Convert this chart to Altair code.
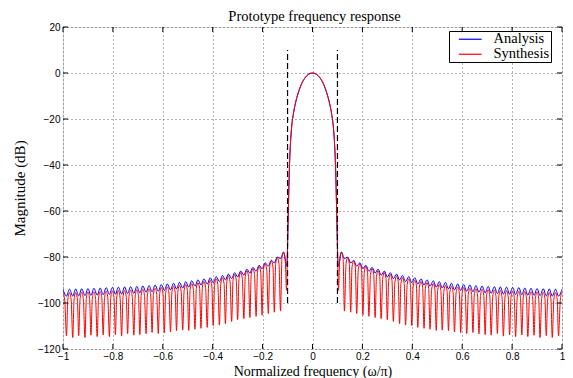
import altair as alt
import pandas as pd

# ---- data (right half; the response is symmetric about 0) ----
lobe_x = [0.000, 0.015, 0.030, 0.045, 0.057, 0.068, 0.077, 0.084, 0.089, 0.093, 0.096, 0.099, 0.101]
lobe_db = [0.0, -0.5, -2.1, -5.0, -8.6, -13.0, -18.0, -24.0, -32.0, -43.0, -56.0, -70.0, -80.0]

null_x = [0.104, 0.128, 0.153, 0.177, 0.202, 0.226, 0.251, 0.275, 0.300, 0.324,
          0.349, 0.373, 0.398, 0.422, 0.447, 0.471, 0.496, 0.520, 0.545, 0.569,
          0.594, 0.618, 0.643, 0.667, 0.692, 0.716, 0.741, 0.765, 0.790, 0.814,
          0.839, 0.863, 0.888, 0.912, 0.937, 0.961, 0.986]
peak_x = [0.116, 0.141, 0.165, 0.190, 0.214, 0.239, 0.263, 0.288, 0.312, 0.337,
          0.361, 0.386, 0.410, 0.435, 0.459, 0.484, 0.508, 0.533, 0.557, 0.582,
          0.606, 0.631, 0.655, 0.680, 0.704, 0.729, 0.753, 0.778, 0.802, 0.827,
          0.851, 0.876, 0.900, 0.925, 0.949, 0.974, 1.000]

analysis_peak = [-77.8, -80.0, -81.4, -82.5, -83.6, -84.5, -85.3, -86.1, -86.8, -87.4,
                 -88.0, -88.5, -89.0, -89.5, -89.9, -90.3, -90.7, -91.0, -91.4, -91.7,
                 -92.0, -92.2, -92.4, -92.6, -92.8, -92.9, -93.0, -93.1, -93.2, -93.3,
                 -93.5, -93.6, -93.7, -93.8, -93.9, -94.0, -94.0]
analysis_null = [-84.0, -80.7, -82.6, -84.0, -85.1, -86.2, -87.0, -87.9, -88.7, -89.4,
                 -90.0, -90.7, -91.2, -91.8, -92.2, -92.7, -93.1, -93.5, -93.9, -94.3,
                 -94.6, -94.9, -95.1, -95.3, -95.6, -95.8, -95.9, -96.1, -96.2, -96.3,
                 -96.4, -96.6, -96.7, -96.8, -96.9, -97.0, -97.0]
synthesis_peak = [-78.0, -80.3, -81.8, -83.0, -84.1, -85.1, -86.0, -86.8, -87.6, -88.3,
                  -89.0, -89.5, -90.1, -90.6, -91.1, -91.5, -91.9, -92.3, -92.7, -93.0,
                  -93.3, -93.6, -93.8, -94.0, -94.2, -94.4, -94.5, -94.6, -94.8, -94.9,
                  -95.0, -95.1, -95.2, -95.3, -95.4, -95.5, -95.5]
# level of each red arch at its shoulders (where the arch turns into the narrow null)
synthesis_shoulder = [-80.5, -82.8, -84.3, -85.5, -86.6, -87.6, -88.5, -89.3, -90.1, -90.8,
                      -91.5, -92.0, -92.6, -93.2, -93.7, -94.1, -94.5, -94.9, -95.3, -95.7,
                      -96.0, -96.3, -96.5, -96.7, -96.9, -97.1, -97.3, -97.4, -97.6, -97.7,
                      -97.8, -97.9, -98.0, -98.1, -98.2, -98.3, -98.3]
shoulder_halfwidth = 0.0065
synthesis_null = [-94.5, -103.5, -104.0, -104.6, -105.3, -105.8, -106.3, -106.8, -107.2, -108.0,
                  -109.0, -109.6, -109.8, -110.6, -111.0, -111.4, -111.9, -111.8, -112.0, -112.6,
                  -112.9, -113.3, -112.8, -113.4, -113.7, -114.0, -113.3, -114.4, -113.8, -114.6,
                  -113.9, -114.6, -114.0, -115.0, -114.2, -115.0, -114.3]

series_names = ["Analysis", "Synthesis"]
series_colors = ["#0000ff", "#ff0000"]
chart_title = "Prototype frequency response"

x_ticks = [-1, -0.8, -0.6, -0.4, -0.2, 0, 0.2, 0.4, 0.6, 0.8, 1]
y_ticks = [20, 0, -20, -40, -60, -80, -100, -120]
band_edges = [-0.1, 0.1]
edge_top = 10
edge_bottom = -100


def build(name, peaks, nulls, shoulders=None):
    xs_ = lobe_x + null_x + peak_x
    ys_ = lobe_db + nulls + peaks
    if shoulders is not None:
        xs_ = xs_ + [p - shoulder_halfwidth for p in peak_x] + [p + shoulder_halfwidth for p in peak_x]
        ys_ = ys_ + shoulders + shoulders
    rows = []
    for x, y in zip(xs_, ys_):
        rows.append({"x": x, "db": y, "series": name})
        if x != 0:
            rows.append({"x": -x, "db": y, "series": name})
    return rows


curve_df = pd.DataFrame(build("Analysis", analysis_peak, analysis_null)
                        + build("Synthesis", synthesis_peak, synthesis_null, synthesis_shoulder))
edge_df = pd.DataFrame({"x": band_edges, "top": [edge_top] * 2, "bottom": [edge_bottom] * 2})
xt_df = pd.DataFrame({"t": x_ticks})
yt_df = pd.DataFrame({"t": y_ticks})
title_df = pd.DataFrame({"title": [chart_title]})

W, H = 499, 322
xs = alt.Scale(domain=[-1, 1], nice=False, zero=False)
ys = alt.Scale(domain=[-120, 20], nice=False, zero=False)

x_axis = alt.Axis(values=x_ticks, format="~g", ticks=False, domain=False, grid=True,
                  gridColor="#000000", gridOpacity=0.6, gridDash=[1, 3], gridWidth=1,
                  labelFont="Liberation Sans", labelFontSize=10, labelColor="black",
                  labelPadding=2, labelFlush=False, labelOverlap=False,
                  title="Normalized frequency (ω/π)", titleFont="Liberation Serif",
                  titleFontSize=14, titleFontWeight="normal", titleColor="black",
                  titleY=26, titleBaseline="alphabetic")
y_axis = alt.Axis(values=y_ticks, format="d", ticks=False, domain=False, grid=True,
                  gridColor="#000000", gridOpacity=0.6, gridDash=[1, 3], gridWidth=1,
                  labelFont="Liberation Sans", labelFontSize=10, labelColor="black",
                  labelPadding=3, labelFlush=False, labelOverlap=False,
                  title="Magnitude (dB)", titleFont="Liberation Serif",
                  titleFontSize=15, titleFontWeight="normal", titleColor="black",
                  titleX=-44, titleY=H / 2, titleAngle=-90, titleBaseline="middle",
                  titleAlign="center")

curves = alt.Chart(curve_df).mark_line(interpolate="monotone", strokeWidth=1, clip=True).encode(
    x=alt.X("x:Q", scale=xs, axis=x_axis),
    y=alt.Y("db:Q", scale=ys, axis=y_axis),
    color=alt.Color("series:N", scale=alt.Scale(domain=series_names, range=series_colors),
                    legend=alt.Legend(orient="none", legendX=386, legendY=4, title=None,
                                      labelFont="Liberation Serif", labelFontSize=14.5,
                                      labelColor="black", strokeColor="black",
                                      fillColor="white", padding=1, rowPadding=0,
                                      symbolType="M-1.9,0L1.9,0", symbolSize=144,
                                      symbolStrokeWidth=1.2, symbolOffset=13,
                                      labelOffset=16,
                                      labelExpr="datum.label + '  '")),
)

edges = alt.Chart(edge_df).mark_rule(color="black", strokeWidth=1.2, strokeDash=[6, 3]).encode(
    x=alt.X("x:Q", scale=xs, axis=x_axis),
    y=alt.Y("bottom:Q", scale=ys, axis=y_axis),
    y2="top:Q",
)

tick_style = dict(color="black", strokeWidth=1)
tb = alt.Chart(xt_df).mark_rule(**tick_style).encode(
    x=alt.X("t:Q", scale=xs, axis=x_axis), y=alt.value(H - 5), y2=alt.value(H))
tt = alt.Chart(xt_df).mark_rule(**tick_style).encode(
    x=alt.X("t:Q", scale=xs, axis=x_axis), y=alt.value(0), y2=alt.value(5))
tl = alt.Chart(yt_df).mark_rule(**tick_style).encode(
    y=alt.Y("t:Q", scale=ys, axis=y_axis), x=alt.value(0), x2=alt.value(5))
tr = alt.Chart(yt_df).mark_rule(**tick_style).encode(
    y=alt.Y("t:Q", scale=ys, axis=y_axis), x=alt.value(W - 5), x2=alt.value(W))

title_mark = alt.Chart(title_df).mark_text(
    font="Liberation Serif", fontSize=14.5, color="black", align="center", baseline="alphabetic"
).encode(text="title:N", x=alt.value(W / 2 + 2), y=alt.value(-6))

chart = alt.layer(curves, edges, tb, tt, tl, tr, title_mark).properties(
    width=W, height=H,
    autosize=alt.AutoSizeParams(type="none"),
    padding={"left": 55, "top": 19, "right": 3, "bottom": 29},
).configure_view(stroke="black", strokeWidth=1).configure(background="white")

chart.save("out.html", embed_options={"renderer": "svg", "actions": False})
